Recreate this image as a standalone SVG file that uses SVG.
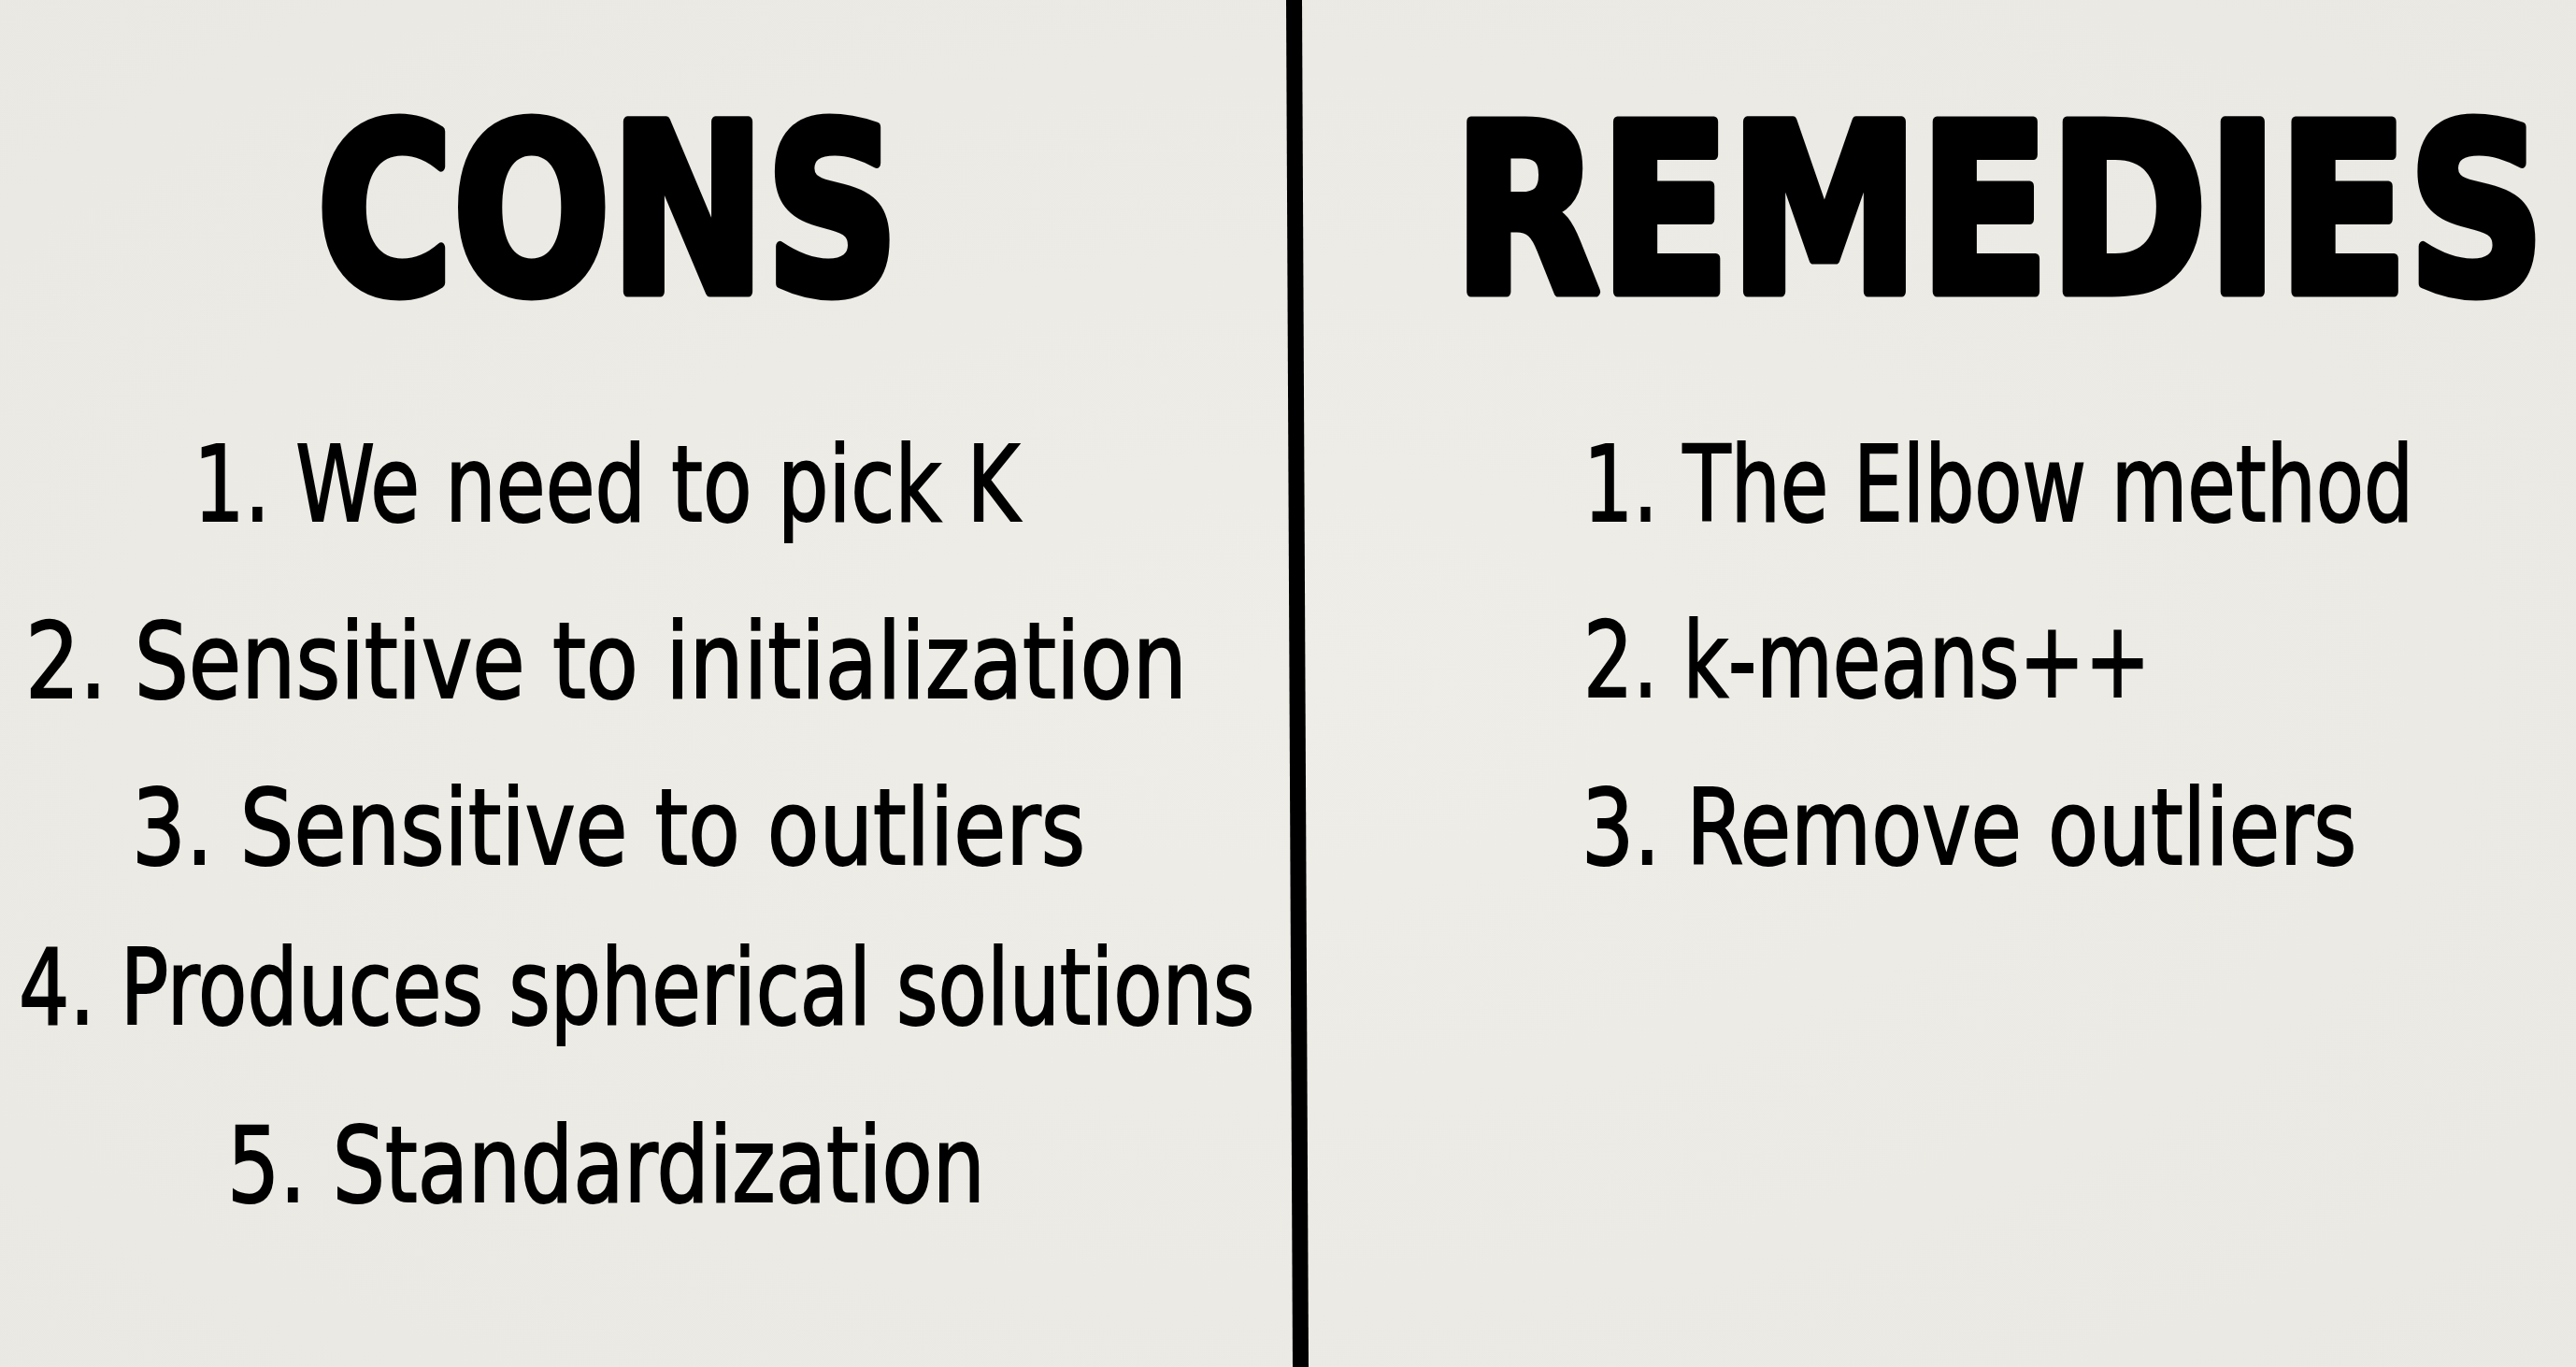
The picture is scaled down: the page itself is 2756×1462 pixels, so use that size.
<svg xmlns="http://www.w3.org/2000/svg" width="2756" height="1462" viewBox="0 0 2756 1462">
<defs>
<radialGradient id="bg" cx="50%" cy="50%" r="75%">
<stop offset="0" stop-color="#EEEDE8"/>
<stop offset="1" stop-color="#E9E8E2"/>
</radialGradient>
</defs>
<style>
.head{font-family:"DejaVu Sans","Liberation Sans",sans-serif;font-weight:bold;font-size:250px;fill:#000;stroke:#000;stroke-width:11;stroke-linejoin:round}
.item{font-family:"DejaVu Sans","Liberation Sans",sans-serif;font-size:112px;fill:#000;stroke:#000;stroke-width:2}
</style>
<rect width="2756" height="1462" fill="url(#bg)"/>
<g id="divider">
<line x1="1384.5" y1="0" x2="1391.5" y2="1462" stroke="#000" stroke-width="17"/>
</g>
<g id="cons">
<text class="head" transform="translate(339,312) scale(0.7934,1)" textLength="785" lengthAdjust="spacingAndGlyphs">CONS</text>
<text class="item" transform="translate(207,557) scale(0.7627,1)" textLength="1159" lengthAdjust="spacingAndGlyphs">1. We need to pick K</text>
<text class="item" transform="translate(27,746) scale(0.8187,1)" textLength="1518" lengthAdjust="spacingAndGlyphs">2. Sensitive to initialization</text>
<text class="item" transform="translate(141,924) scale(0.8122,1)" textLength="1256" lengthAdjust="spacingAndGlyphs">3. Sensitive to outliers</text>
<text class="item" transform="translate(20,1095) scale(0.7612,1)" textLength="1737" lengthAdjust="spacingAndGlyphs">4. Produces spherical solutions</text>
<text class="item" transform="translate(243,1285) scale(0.7895,1)" textLength="1027" lengthAdjust="spacingAndGlyphs">5. Standardization</text>
</g>
<g id="remedies">
<text class="head" transform="translate(1555,312) scale(0.8145,1)" textLength="1434" lengthAdjust="spacingAndGlyphs">REMEDIES</text>
<text class="item" transform="translate(1694,557) scale(0.7476,1)" textLength="1188" lengthAdjust="spacingAndGlyphs">1. The Elbow method</text>
<text class="item" transform="translate(1694,745) scale(0.7481,1)" textLength="811" lengthAdjust="spacingAndGlyphs">2. k-means++</text>
<text class="item" transform="translate(1692,924) scale(0.7846,1)" textLength="1057" lengthAdjust="spacingAndGlyphs">3. Remove outliers</text>
</g>
</svg>
